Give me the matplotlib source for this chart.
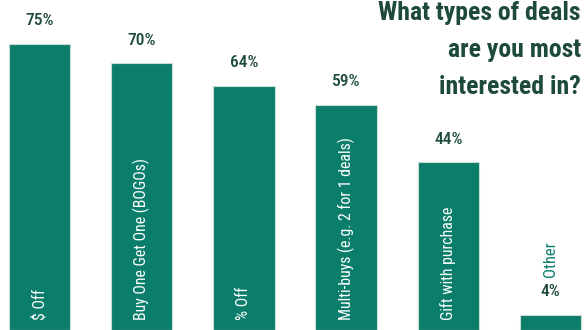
import matplotlib.pyplot as plt

# survey answers
categories = ['$ Off', 'Buy One Get One (BOGOs)', '% Off',
              'Multi-buys (e.g. 2 for 1 deals)', 'Gift with purchase', 'Other']
values = [75, 70, 64, 59, 44, 4]
title = 'What types of deals\nare you most\ninterested in?'

bar_color = '#0b7d6b'
dark_green = '#1d4a3a'

plt.rcParams['font.family'] = ['Roboto Condensed', 'Archivo Narrow', 'DejaVu Sans']

fig = plt.figure(figsize=(5.85, 3.3), dpi=100)
ax = fig.add_axes([0, 0, 1, 1])

x = range(len(categories))
bars = ax.bar(x, values, width=0.6, color=bar_color, edgecolor='#c9ddd7', linewidth=0.8)

for i, (cat, v) in enumerate(zip(categories, values)):
    # value above the bar
    ax.annotate(f'{v}%', xy=(i, v), xytext=(0, 16.5), textcoords='offset points',
                ha='center', va='center', fontsize=12.5, fontweight='medium', color=dark_green)
    if v > 20:
        # category name inside the bar
        ax.annotate(cat, xy=(i, 0), xytext=(0, 7), textcoords='offset points',
                    rotation=90, ha='center', va='bottom', fontsize=11.3, color='white')
    else:
        # too small, put it above the value
        ax.annotate(cat, xy=(i, v), xytext=(0, 27), textcoords='offset points',
                    rotation=90, ha='center', va='bottom', fontsize=12, color=bar_color)

ax.set_xlim(-0.386, 5.337)
ax.set_ylim(0, 86.5)
ax.axis('off')

fig.text(0.993, 0.998, title, ha='right', va='top', fontsize=18.5, fontweight='bold',
         color=dark_green, linespacing=1.68)

fig.savefig('out.png', dpi=100)
